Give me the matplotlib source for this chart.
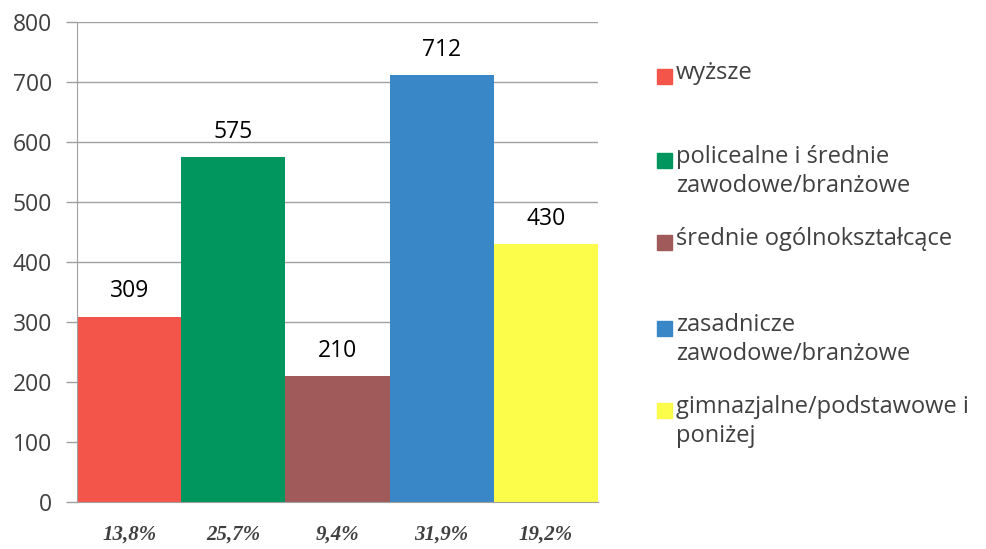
import matplotlib
matplotlib.use("Agg")
import matplotlib.pyplot as plt
from matplotlib.patches import Rectangle

categories = ["wyższe", "policealne i średnie\nzawodowe/branżowe", "średnie ogólnokształcące",
              "zasadnicze\nzawodowe/branżowe", "gimnazjalne/podstawowe i\nponiżej"]
values = [309, 575, 210, 712, 430]
percents = ["13,8%", "25,7%", "9,4%", "31,9%", "19,2%"]
colors = ["#f4554a", "#00965e", "#a05a5a", "#3a87c8", "#fcfc4a"]
yticks = [0, 100, 200, 300, 400, 500, 600, 700, 800]

plt.rcParams['font.family'] = ['Open Sans', 'DejaVu Sans']

fig = plt.figure(figsize=(9.87, 5.49), dpi=100)
ax = fig.add_axes([77/987, 1-502/549, (598-77)/987, (502-22)/549])

x = list(range(len(values)))
ax.bar(x, values, width=1.0, color=colors, zorder=2)
ax.set_xlim(-0.5, len(values) - 0.5)
ax.set_ylim(0, 800)
ax.set_yticks(yticks)
ax.set_yticklabels([str(t) for t in yticks], fontsize=16.5, color="#404040")
ax.tick_params(axis='y', length=8, color="#a0a0a0", pad=10, width=1)
ax.tick_params(axis='x', length=0)
ax.set_xticks(x)
ax.set_xticklabels(percents, fontsize=15, color="#404040",
                   fontfamily="Liberation Serif", fontweight="bold", fontstyle="italic")
ax.tick_params(axis='x', pad=16)
ax.grid(axis='y', color="#a0a0a0", linewidth=1, zorder=0)
for s in ["top", "right"]:
    ax.spines[s].set_visible(False)
ax.spines["left"].set_color("#a0a0a0")
ax.spines["bottom"].set_color("#a0a0a0")

for xi, v in zip(x, values):
    ax.text(xi, v + 22, str(v), ha="center", va="bottom", fontsize=16.5, color="#000000")

# legend (manual)
ys = [76, 160, 242, 328, 410]
for lab, c, yy in zip(categories, colors, ys):
    fig.patches.append(Rectangle((657/987, 1-(yy+8)/549), 15/987, 15/549,
                                 transform=fig.transFigure, color=c, figure=fig))
    fig.text(676/987, 1-(yy-15)/549, lab, ha="left", va="top", fontsize=17,
             color="#404040", linespacing=1.3)

fig.savefig("out.png", dpi=100)
